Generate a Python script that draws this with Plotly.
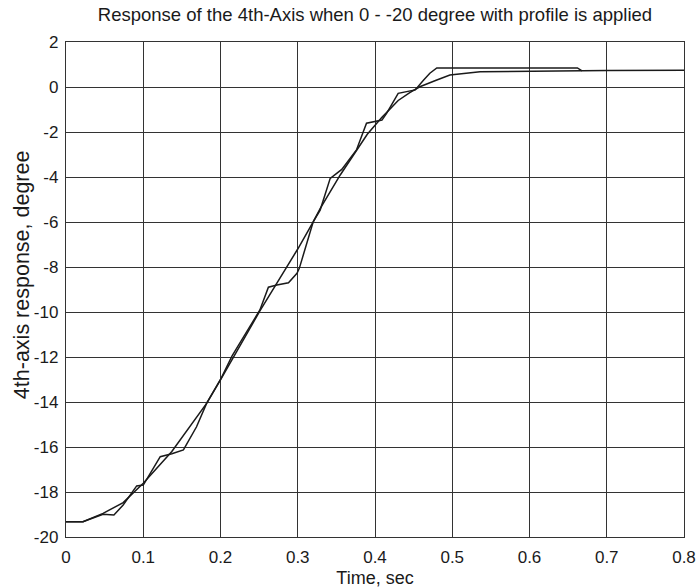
import plotly.graph_objects as go

# Smooth reference profile (time in s, angle in degree)
ref_t = [0.0, 0.022, 0.048, 0.074, 0.100, 0.137, 0.182, 0.200, 0.251, 0.300,
         0.320, 0.329, 0.355, 0.376, 0.390, 0.409, 0.430, 0.445, 0.458, 0.480,
         0.497, 0.536, 0.600, 0.700, 0.800]
ref_y = [-19.32, -19.32, -18.95, -18.47, -17.61, -16.20, -14.06, -13.02, -9.95, -7.20,
         -5.99, -5.40, -3.91, -2.85, -2.10, -1.35, -0.60, -0.25, 0.01, 0.31,
         0.53, 0.68, 0.71, 0.73, 0.75]

# Stepped actual response
act_t = [0.0, 0.022, 0.048, 0.062, 0.074, 0.0915, 0.100, 0.122, 0.137, 0.152,
         0.169, 0.182, 0.200, 0.215, 0.251, 0.262, 0.273, 0.288, 0.299, 0.302,
         0.320, 0.329, 0.342, 0.357, 0.376, 0.389, 0.409, 0.415, 0.430, 0.452,
         0.463, 0.471, 0.480, 0.662, 0.668]
act_y = [-19.32, -19.32, -18.99, -19.02, -18.58, -17.73, -17.69, -16.43, -16.30, -16.13,
         -15.10, -14.06, -13.00, -11.95, -9.91, -8.90, -8.80, -8.70, -8.28, -8.06,
         -5.99, -5.47, -4.06, -3.66, -2.80, -1.61, -1.47, -1.17, -0.28, -0.13,
         0.31, 0.61, 0.85, 0.85, 0.72]

x_ticks = [0, 0.1, 0.2, 0.3, 0.4, 0.5, 0.6, 0.7, 0.8]
x_tick_text = ["0", "0.1", "0.2", "0.3", "0.4", "0.5", "0.6", "0.7", "0.8"]
y_ticks = [2, 0, -2, -4, -6, -8, -10, -12, -14, -16, -18, -20]
y_tick_text = ["2", "0", "-2", "-4", "-6", "-8", "-10", "-12", "-14", "-16", "-18", "-20"]

font_family = "Liberation Sans, Arial, sans-serif"

fig = go.Figure()
fig.add_trace(go.Scatter(x=ref_t, y=ref_y, mode="lines",
                         line=dict(color="#1a1a1a", width=1.5), showlegend=False))
fig.add_trace(go.Scatter(x=act_t, y=act_y, mode="lines",
                         line=dict(color="#1a1a1a", width=1.5), showlegend=False))

fig.update_layout(
    width=700, height=588,
    margin=dict(l=66, r=16, t=42, b=51),
    paper_bgcolor="white", plot_bgcolor="white",
    font=dict(family=font_family, size=16, color="#1a1a1a"),
    title=dict(text="Response of the 4th-Axis when 0 - -20 degree with profile is applied",
               x=0.5357, xanchor="center", y=1 - 15 / 588, yanchor="middle",
               font=dict(size=18.5, family=font_family, color="#1a1a1a")),
    annotations=[dict(text="4th-axis response, degree", xref="paper", yref="paper",
                      x=-0.072, y=0.53, xanchor="center", yanchor="middle",
                      textangle=-90, showarrow=False,
                      font=dict(size=21.5, family=font_family, color="#1a1a1a"))],
)
fig.update_xaxes(
    range=[0, 0.8], tickvals=x_ticks, ticktext=x_tick_text,
    showgrid=True, gridcolor="#333333", gridwidth=1.2,
    showline=True, linecolor="#333333", linewidth=1.3, mirror=True,
    ticks="", zeroline=False, ticklabelstandoff=4, automargin=False,
    tickfont=dict(size=17),
    title=dict(text="Time, sec", standoff=7, font=dict(size=18)),
)
fig.update_yaxes(
    range=[-20, 2], tickvals=y_ticks, ticktext=y_tick_text,
    showgrid=True, gridcolor="#333333", gridwidth=1.2,
    showline=True, linecolor="#333333", linewidth=1.3, mirror=True,
    ticks="", zeroline=False, ticklabelstandoff=3, automargin=False,
    tickfont=dict(size=17),
)

fig.write_html("out.html", config={"displayModeBar": False},
               post_script="document.body.style.margin='0px';")
